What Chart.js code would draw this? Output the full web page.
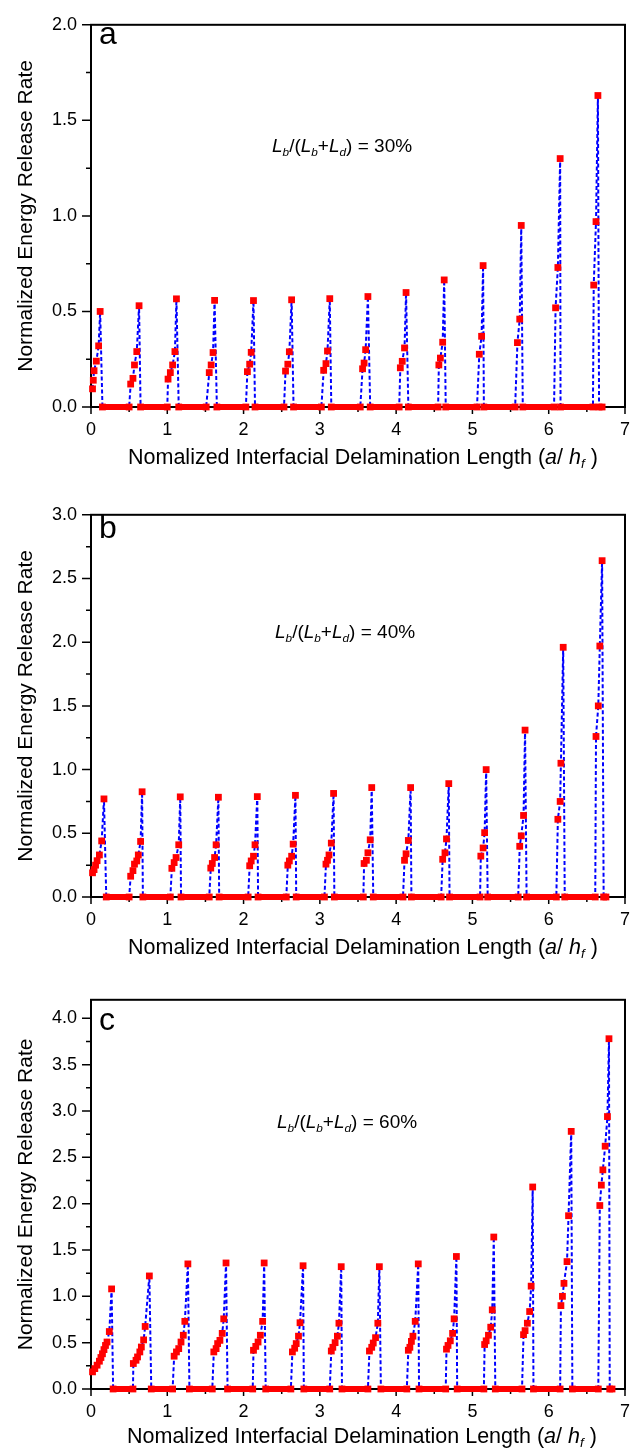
<!DOCTYPE html>
<html lang="en">
<head>
    <meta charset="UTF-8">
    <title>Normalized Energy Release Rate</title>
    <script src="https://cdn.jsdelivr.net/npm/chart.js@4.4.1/dist/chart.umd.min.js"></script>
    <style>
        html, body { margin: 0; padding: 0; background: #fff; }
        body { width: 642px; height: 1453px; position: relative; overflow: hidden;
               font-family: "Liberation Sans", Arial, sans-serif; color: #000; }
        .panel { position: absolute; left: 0; width: 642px; }
        .txt { position: absolute; white-space: nowrap; line-height: 1; }
        .letter { font-size: 32px; }
        .note { font-size: 19px; }
        .xtitle { font-size: 21.5px; }
        sub { font-size: 0.62em; vertical-align: -0.32em; line-height: 0; }
    </style>
</head>
<body>
    <div class="panel" style="top:0;height:480px"><canvas id="chartA"></canvas></div>
    <div class="panel" style="top:490px;height:480px"><canvas id="chartB"></canvas></div>
    <div class="panel" style="top:975px;height:478px"><canvas id="chartC"></canvas></div>

    <div class="txt letter" style="left:99px;top:17px">a</div>
    <div class="txt letter" style="left:99px;top:511px">b</div>
    <div class="txt letter" style="left:99px;top:1003px">c</div>

    <div class="txt note" style="left:272px;top:136px"><i>L</i><sub><i>b</i></sub>/(<i>L</i><sub><i>b</i></sub>+<i>L</i><sub><i>d</i></sub>) = 30%</div>
    <div class="txt note" style="left:275px;top:622px"><i>L</i><sub><i>b</i></sub>/(<i>L</i><sub><i>b</i></sub>+<i>L</i><sub><i>d</i></sub>) = 40%</div>
    <div class="txt note" style="left:277px;top:1112px"><i>L</i><sub><i>b</i></sub>/(<i>L</i><sub><i>b</i></sub>+<i>L</i><sub><i>d</i></sub>) = 60%</div>

    <div class="txt xtitle" style="left:128px;top:447px">Nomalized Interfacial Delamination Length (<i>a</i>/ <i>h</i><sub><i>f</i></sub> )</div>
    <div class="txt xtitle" style="left:128px;top:937px">Nomalized Interfacial Delamination Length (<i>a</i>/ <i>h</i><sub><i>f</i></sub> )</div>
    <div class="txt xtitle" style="left:127px;top:1426px">Nomalized Interfacial Delamination Length (<i>a</i>/ <i>h</i><sub><i>f</i></sub> )</div>

    <script>
        // panel a: Lb/(Lb+Ld) = 30%
        const aX = [0.02,0.03,0.04,0.07,0.10,0.12,0.15,0.50,
                    0.52,0.55,0.57,0.60,0.63,0.65,1.00,
                    1.01,1.04,1.07,1.10,1.12,1.15,1.51,
                    1.55,1.575,1.60,1.62,1.65,2.03,
                    2.05,2.08,2.10,2.13,2.15,2.53,
                    2.55,2.58,2.60,2.63,2.655,3.02,
                    3.05,3.08,3.10,3.13,3.15,3.53,
                    3.56,3.58,3.60,3.63,3.66,4.04,
                    4.055,4.08,4.11,4.13,4.16,4.55,
                    4.56,4.58,4.61,4.63,4.65,5.06,
                    5.09,5.12,5.14,5.15,5.56,
                    5.59,5.62,5.64,5.66,6.07,
                    6.09,6.12,6.15,6.155,6.58,
                    6.59,6.62,6.645,6.66,6.70];
        const aY = [0.095,0.14,0.19,0.24,0.32,0.50,0,0,
                    0.12,0.15,0.22,0.29,0.53,0,0,
                    0.146,0.18,0.22,0.29,0.566,0,0,
                    0.18,0.22,0.285,0.558,0,0,
                    0.185,0.224,0.286,0.557,0,0,
                    0.188,0.224,0.289,0.561,0,0,
                    0.192,0.227,0.293,0.567,0,0,
                    0.20,0.23,0.30,0.578,0,0,
                    0.205,0.239,0.309,0.599,0,0,
                    0.22,0.256,0.339,0.665,0,0,
                    0.276,0.37,0.74,0,0,
                    0.337,0.46,0.95,0,0,
                    0.519,0.73,1.30,0,0,
                    0.638,0.97,1.63,0,0];

        // panel b: Lb/(Lb+Ld) = 40%
        const bX = [0.02,0.04,0.06,0.08,0.11,0.14,0.17,0.20,0.50,
                    0.52,0.55,0.57,0.60,0.62,0.65,0.67,0.68,1.04,
                    1.06,1.09,1.115,1.15,1.17,1.18,1.55,
                    1.57,1.59,1.62,1.64,1.67,1.68,2.06,
                    2.08,2.10,2.13,2.15,2.18,2.19,2.56,
                    2.58,2.60,2.63,2.65,2.68,2.69,3.06,
                    3.08,3.10,3.12,3.15,3.18,3.19,3.57,
                    3.58,3.61,3.63,3.66,3.68,3.70,4.09,
                    4.11,4.13,4.16,4.19,4.20,4.59,
                    4.61,4.64,4.66,4.69,4.70,5.10,
                    5.11,5.14,5.16,5.18,5.20,5.60,
                    5.62,5.64,5.67,5.69,5.71,6.10,
                    6.12,6.15,6.16,6.19,6.21,6.61,
                    6.62,6.65,6.67,6.70,6.72,6.75];
        const bY = [0.19,0.215,0.25,0.285,0.33,0.44,0.77,0,0,
                    0.163,0.207,0.258,0.283,0.33,0.436,0.826,0,0,
                    0.225,0.27,0.31,0.41,0.786,0,0,
                    0.227,0.263,0.31,0.41,0.783,0,0,
                    0.245,0.283,0.32,0.41,0.788,0,0,
                    0.25,0.283,0.32,0.415,0.798,0,0,
                    0.258,0.288,0.33,0.423,0.813,0,0,
                    0.263,0.288,0.347,0.449,0.859,0,0,
                    0.288,0.339,0.444,0.859,0,0,
                    0.296,0.347,0.456,0.89,0,0,
                    0.321,0.385,0.505,1.0,0,0,
                    0.398,0.48,0.64,1.31,0,0,
                    0.61,0.75,1.05,1.96,0,0,
                    1.26,1.50,1.97,2.64,0,0];

        // panel c: Lb/(Lb+Ld) = 60%
        const cX = [0.02,0.05,0.08,0.11,0.13,0.15,0.17,0.19,0.21,0.24,0.27,0.29,0.55,
                    0.555,0.59,0.61,0.64,0.66,0.69,0.71,0.765,0.79,1.07,
                    1.09,1.12,1.15,1.18,1.21,1.23,1.27,1.29,1.59,
                    1.61,1.64,1.66,1.69,1.72,1.74,1.77,1.79,2.12,
                    2.13,2.16,2.19,2.22,2.25,2.27,2.29,2.62,
                    2.64,2.67,2.69,2.72,2.74,2.78,2.79,3.13,
                    3.15,3.17,3.20,3.23,3.25,3.28,3.29,3.63,
                    3.65,3.68,3.70,3.73,3.76,3.78,3.80,4.14,
                    4.16,4.18,4.20,4.22,4.25,4.29,4.30,4.65,
                    4.66,4.68,4.71,4.74,4.76,4.79,4.80,5.15,
                    5.16,5.18,5.21,5.24,5.26,5.28,5.30,5.65,
                    5.67,5.69,5.72,5.75,5.77,5.79,5.80,6.15,
                    6.16,6.18,6.20,6.24,6.26,6.295,6.31,6.65,
                    6.67,6.69,6.71,6.74,6.77,6.79,6.80,6.83];
        const cY = [0.185,0.22,0.257,0.30,0.34,0.38,0.425,0.47,0.507,0.62,1.08,0,0,
                    0.275,0.31,0.346,0.40,0.453,0.53,0.675,1.22,0,0,
                    0.354,0.40,0.436,0.507,0.58,0.73,1.35,0,0,
                    0.40,0.436,0.49,0.525,0.60,0.757,1.36,0,0,
                    0.418,0.46,0.507,0.58,0.73,1.36,0,0,
                    0.40,0.44,0.49,0.57,0.715,1.33,0,0,
                    0.41,0.45,0.50,0.57,0.71,1.32,0,0,
                    0.41,0.45,0.496,0.554,0.71,1.32,0,0,
                    0.418,0.45,0.514,0.57,0.73,1.35,0,0,
                    0.43,0.47,0.52,0.60,0.757,1.43,0,0,
                    0.48,0.52,0.58,0.667,0.854,1.64,0,0,
                    0.586,0.63,0.71,0.836,1.11,2.18,0,0,
                    0.90,1.00,1.14,1.375,1.87,2.78,0,0,
                    1.98,2.20,2.365,2.62,2.94,3.78,0,0];

        // axis ticks (labels on the half steps, bare marks on the quarter steps)
        const xTickVals = [0,0.5,1,1.5,2,2.5,3,3.5,4,4.5,5,5.5,6,6.5,7];
        const aYTicks = [0,0.25,0.5,0.75,1,1.25,1.5,1.75,2];
        const bYTicks = [0,0.25,0.5,0.75,1,1.25,1.5,1.75,2,2.25,2.5,2.75,3];
        const cYTicks = [0,0.25,0.5,0.75,1,1.25,1.5,1.75,2,2.25,2.5,2.75,3,3.25,3.5,3.75,4];
        const yTitle = 'Normalized Energy Release Rate';

        Chart.defaults.font.family = '"Liberation Sans", Arial, sans-serif';
        Chart.defaults.color = '#000';

        const onHalf = v => Math.abs(v * 2 - Math.round(v * 2)) < 1e-6;

        // frame and outward tick marks (major longer than minor)
        const frameTicks = {
            id: 'frameTicks',
            beforeDatasetsDraw(chart) {
                const {ctx, chartArea: a, scales: {x, y}} = chart;
                ctx.save();
                ctx.strokeStyle = '#000';
                ctx.lineWidth = 2;
                ctx.strokeRect(a.left, a.top, a.right - a.left, a.bottom - a.top);
                ctx.lineWidth = 1.5;
                ctx.beginPath();
                y.ticks.forEach(t => {
                    const py = y.getPixelForValue(t.value);
                    const len = onHalf(t.value) ? 9 : 5;
                    ctx.moveTo(a.left, py);
                    ctx.lineTo(a.left - len, py);
                });
                x.ticks.forEach(t => {
                    const px = x.getPixelForValue(t.value);
                    const len = Number.isInteger(t.value) ? 7 : 5;
                    ctx.moveTo(px, a.bottom);
                    ctx.lineTo(px, a.bottom + len);
                });
                ctx.stroke();
                ctx.restore();
            }
        };

        function zeroRuns(xs, ys) {
            const out = [];
            for (let i = 0; i < ys.length - 1; i++) {
                if (ys[i] === 0 && ys[i + 1] === 0) {
                    out.push({x: xs[i], y: 0}, {x: xs[i + 1], y: 0}, {x: xs[i + 1], y: null});
                }
            }
            return out;
        }

        function makePanel(id, xs, ys, yMax, yTicks, padTop, xAxisH) {
            new Chart(document.getElementById(id), {
                type: 'scatter',
                data: {
                    datasets: [{
                        data: zeroRuns(xs, ys),
                        showLine: true,
                        borderColor: '#ff0000',
                        borderWidth: 6,
                        pointRadius: 0,
                        spanGaps: false,
                        clip: false
                    }, {
                        data: xs.map((x, i) => ({x, y: ys[i]})),
                        showLine: true,
                        borderColor: '#0000ff',
                        borderWidth: 2,
                        borderDash: [4, 2.5],
                        pointStyle: 'rect',
                        pointRadius: 4.8,
                        pointBackgroundColor: '#ff0000',
                        pointBorderColor: '#ff0000',
                        pointBorderWidth: 0,
                        clip: false
                    }]
                },
                options: {
                    responsive: true,
                    maintainAspectRatio: false,
                    animation: false,
                    events: [],
                    layout: { padding: { top: padTop, right: 16, left: 0, bottom: 0 } },
                    plugins: { legend: { display: false }, tooltip: { enabled: false } },
                    scales: {
                        x: {
                            type: 'linear', min: 0, max: 7,
                            grid: { display: false, drawTicks: false },
                            border: { display: false },
                            afterBuildTicks: s => { s.ticks = xTickVals.map(value => ({value})); },
                            ticks: {
                                autoSkip: false, maxRotation: 0, padding: 12,
                                font: { size: 18 },
                                callback: v => Number.isInteger(v) ? String(v) : ''
                            },
                            afterFit: s => { s.height = xAxisH; }
                        },
                        y: {
                            type: 'linear', min: 0, max: yMax,
                            grid: { display: false, drawTicks: false },
                            border: { display: false },
                            title: { display: true, text: yTitle, font: { size: 21 }, padding: { top: 14, bottom: 0 } },
                            afterBuildTicks: s => { s.ticks = yTicks.map(value => ({value})); },
                            ticks: {
                                autoSkip: false, padding: 14,
                                font: { size: 18 },
                                callback: v => onHalf(v) ? v.toFixed(1) : ''
                            },
                            afterFit: s => { s.width = 91; }
                        }
                    }
                },
                plugins: [frameTicks]
            });
        }

        makePanel('chartA', aX, aY, 2.0, aYTicks, 14, 73);
        makePanel('chartB', bX, bY, 3.0, bYTicks, 15, 73);
        makePanel('chartC', cX, cY, 4.2, cYTicks, 22, 64);
    </script>
</body>
</html>
